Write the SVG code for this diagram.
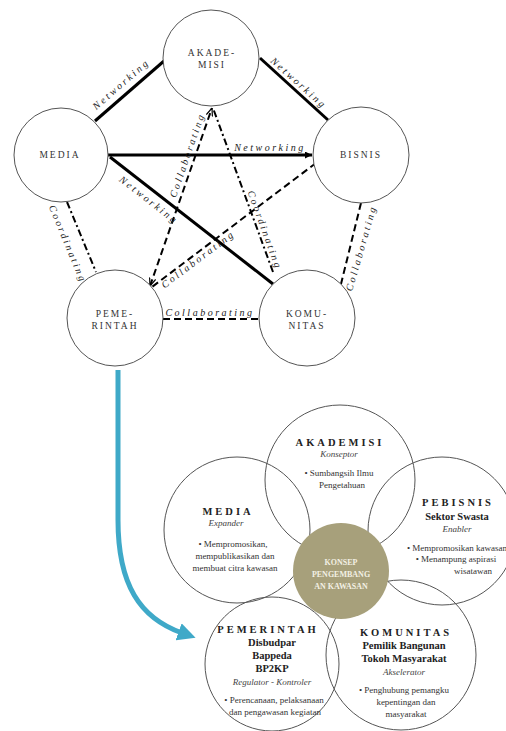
<svg xmlns="http://www.w3.org/2000/svg" width="506" height="731" viewBox="0 0 506 731" font-family="'Liberation Serif', 'DejaVu Serif', serif">
<style>
.node{fill:#fff;stroke:#555;stroke-width:1}
.nt{font-family:'Liberation Serif','DejaVu Serif',serif;font-size:9.5px;letter-spacing:2px;fill:#333;text-anchor:middle}
.lbl{font-family:'Liberation Serif','DejaVu Serif',serif;font-style:italic;font-size:10px;letter-spacing:2.5px;fill:#222;text-anchor:middle;dominant-baseline:central}
.solid{stroke:#000;stroke-width:3;fill:none}
.dash{stroke:#000;stroke-width:2;fill:none;stroke-dasharray:7 4}
.dashdot{stroke:#000;stroke-width:2;fill:none;stroke-dasharray:7 3 2 3}
.vc{fill:none;stroke:#555;stroke-width:1}
.vt{font-family:'Liberation Serif','DejaVu Serif',serif;fill:#222;text-anchor:middle}
.ti{font-size:10.5px;font-weight:bold;letter-spacing:3px}
.sb{font-size:10.5px;font-weight:bold}
.it{font-size:9px;font-style:italic;fill:#444}
.bu{font-size:9px;fill:#333}
.ct{font-family:'Liberation Serif','DejaVu Serif',serif;font-size:8px;font-weight:bold;fill:#f3f0e4;text-anchor:middle}
</style>
<defs>
<marker id="tri" viewBox="0 0 10 10" refX="10" refY="5" markerWidth="8" markerHeight="7" markerUnits="userSpaceOnUse" orient="auto"><path d="M0,0 L10,5 L0,10 Z" fill="#000"/></marker>
<marker id="chev" viewBox="0 0 10 10" refX="10" refY="5" markerWidth="8" markerHeight="8" markerUnits="userSpaceOnUse" orient="auto-start-reverse"><path d="M0,1 L10,5 L0,9" fill="none" stroke="#000" stroke-width="1.5"/></marker>
<marker id="blue" viewBox="0 0 10 10" refX="2" refY="5" markerWidth="18" markerHeight="18" markerUnits="userSpaceOnUse" orient="auto"><path d="M0,0 L10,5 L0,10 Z" fill="#3fa9c8"/></marker>
</defs>

<g id="connectors">
<line class="solid" x1="95" y1="121" x2="164" y2="61"/>
<line class="solid" x1="260" y1="58" x2="328" y2="120"/>
<line class="solid" x1="108" y1="155" x2="312" y2="155" marker-end="url(#tri)"/>
<line class="solid" x1="110" y1="157" x2="273" y2="284"/>
<line class="dash" x1="150" y1="286" x2="212" y2="108" marker-start="url(#chev)" marker-end="url(#chev)"/>
<line class="dashdot" x1="273" y1="272" x2="213" y2="108"/>
<line class="dash" x1="316" y1="163" x2="152" y2="287"/>
<line class="dash" x1="163" y1="319" x2="260" y2="319"/>
<line class="dashdot" x1="67" y1="202" x2="96" y2="272"/>
<line class="dash" x1="361" y1="203" x2="341" y2="284"/>
<text class="lbl" transform="translate(121,84) rotate(-41)">Networking</text>
<text class="lbl" transform="translate(299,83) rotate(42)">Networking</text>
<text class="lbl" transform="translate(270,147)">Networking</text>
<text class="lbl" transform="translate(149,200) rotate(38)">Networking</text>
<text class="lbl" transform="translate(187,155) rotate(-71)">Collaborating</text>
<text class="lbl" transform="translate(265,230) rotate(70)">Coordinating</text>
<text class="lbl" transform="translate(198,259) rotate(-37)">Collaborating</text>
<text class="lbl" transform="translate(210,312)">Collaborating</text>
<text class="lbl" transform="translate(68,244) rotate(67.5)">Coordinating</text>
<text class="lbl" transform="translate(361,248) rotate(-74)">Collaborating</text>
<path d="M118,370 V520 C118,585 140,618 182,633" fill="none" stroke="#3fa9c8" stroke-width="5" marker-end="url(#blue)"/>
</g>

<g id="akademisi"><circle class="node" cx="211" cy="58" r="48"/><text class="nt" x="212" y="56">AKADE-</text><text class="nt" x="212" y="68">MISI</text></g>
<g id="media"><circle class="node" cx="61" cy="155" r="47"/><text class="nt" x="60" y="158">MEDIA</text></g>
<g id="bisnis"><circle class="node" cx="361" cy="155" r="48"/><text class="nt" x="361" y="158">BISNIS</text></g>
<g id="pemerintah"><circle class="node" cx="115" cy="318" r="48"/><text class="nt" x="115" y="317">PEME-</text><text class="nt" x="115" y="329">RINTAH</text></g>
<g id="komunitas"><circle class="node" cx="307" cy="318" r="48"/><text class="nt" x="307" y="317">KOMU-</text><text class="nt" x="307" y="329">NITAS</text></g>

<g id="v-akademisi"><circle class="vc" cx="340" cy="480" r="75"/>
<text class="vt ti" x="340" y="446">AKADEMISI</text>
<text class="vt it" x="339" y="457">Konseptor</text>
<text class="vt bu" x="339" y="476">•  Sumbangsih Ilmu</text>
<text class="vt bu" x="342" y="488">Pengetahuan</text></g>
<g id="v-media"><circle class="vc" cx="237" cy="530" r="73"/>
<text class="vt ti" x="228" y="515">MEDIA</text>
<text class="vt it" x="226" y="526">Expander</text>
<text class="vt bu" x="233" y="547">•  Mempromosikan,</text>
<text class="vt bu" x="235" y="559">mempublikasikan dan</text>
<text class="vt bu" x="235" y="571">membuat citra kawasan</text></g>
<g id="v-pebisnis"><circle class="vc" cx="442" cy="531" r="74"/>
<text class="vt ti" x="458" y="506">PEBISNIS</text>
<text class="vt sb" x="457" y="520">Sektor Swasta</text>
<text class="vt it" x="457" y="532">Enabler</text>
<text class="vt bu" x="457" y="551">•  Mempromosikan kawasan</text>
<text class="vt bu" x="456" y="562">•  Menampung aspirasi</text>
<text class="vt bu" x="473" y="574">wisatawan</text></g>
<g id="v-pemerintah"><circle class="vc" cx="272" cy="664" r="67"/>
<text class="vt ti" x="268" y="633">PEMERINTAH</text>
<text class="vt sb" x="272" y="646">Disbudpar</text>
<text class="vt sb" x="272" y="659">Bappeda</text>
<text class="vt sb" x="272" y="672">BP2KP</text>
<text class="vt it" x="272" y="685">Regulator - Kontroler</text>
<text class="vt bu" x="274" y="703">•  Perencanaan, pelaksanaan</text>
<text class="vt bu" x="275" y="715">dan pengawasan kegiatan</text></g>
<g id="v-komunitas"><circle class="vc" cx="401" cy="655" r="75"/>
<text class="vt ti" x="406" y="636">KOMUNITAS</text>
<text class="vt sb" x="404" y="649">Pemilik Bangunan</text>
<text class="vt sb" x="404" y="662">Tokoh Masyarakat</text>
<text class="vt it" x="404" y="675">Akselerator</text>
<text class="vt bu" x="404" y="693">•  Penghubung pemangku</text>
<text class="vt bu" x="406" y="705">kepentingan dan</text>
<text class="vt bu" x="406" y="717">masyarakat</text></g>
<g id="v-konsep"><circle cx="341" cy="571" r="48" fill="#a7a07b"/>
<text class="ct" x="341" y="565">KONSEP</text>
<text class="ct" x="341" y="577">PENGEMBANG</text>
<text class="ct" x="341" y="589">AN KAWASAN</text></g>
</svg>
